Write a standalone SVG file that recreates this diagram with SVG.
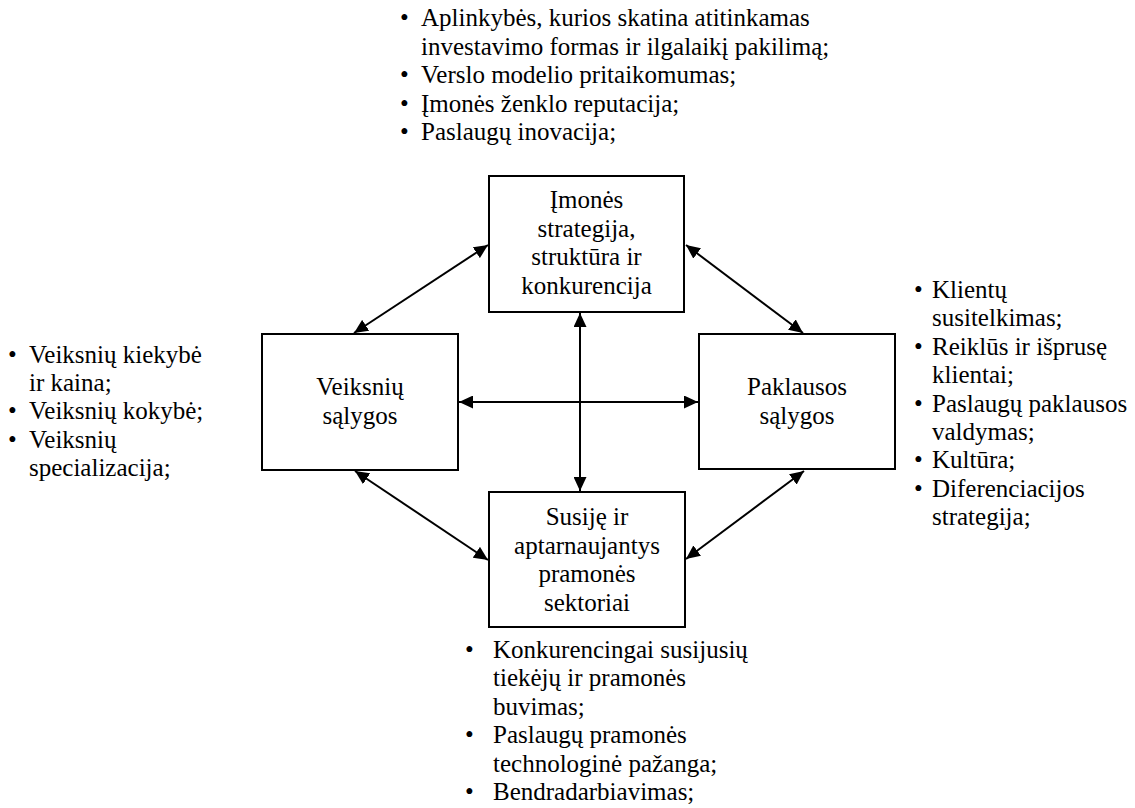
<svg xmlns="http://www.w3.org/2000/svg" width="1135" height="808" viewBox="0 0 1135 808">
  <style>
    text { font-family: "Liberation Serif", "Times New Roman", serif; font-size: 25px; fill: #000; }
    .box { fill: #fff; stroke: #000; stroke-width: 2; }
    .mid { text-anchor: middle; }
    .link { stroke: #000; stroke-width: 2; fill: none; marker-start: url(#head); marker-end: url(#head); }
  </style>
  <defs>
    <marker id="head" viewBox="0 0 14 13" refX="14" refY="6.5" markerWidth="14" markerHeight="13" markerUnits="userSpaceOnUse" orient="auto-start-reverse">
      <path d="M0,0 L14,6.5 L0,13 z" fill="#000"/>
    </marker>
  </defs>
  <rect width="1135" height="808" fill="#fff"/>

  <!-- connectors -->
  <g id="connectors">
    <line class="link" x1="580" y1="313" x2="580" y2="491"/>
    <line class="link" x1="459" y1="402" x2="698" y2="402"/>
    <line class="link" x1="354" y1="333" x2="488" y2="245"/>
    <line class="link" x1="686" y1="245" x2="803" y2="333"/>
    <line class="link" x1="355" y1="471" x2="488" y2="560"/>
    <line class="link" x1="804" y1="471" x2="686" y2="559"/>
  </g>

  <!-- company strategy node -->
  <g id="strategy">
    <rect class="box" x="489" y="176" width="195" height="136"/>
    <text class="mid" x="586.5" y="208">Įmonės</text>
    <text class="mid" x="586.5" y="236.5">strategija,</text>
    <text class="mid" x="586.5" y="265">struktūra ir</text>
    <text class="mid" x="586.5" y="293.5">konkurencija</text>
  </g>

  <!-- factor conditions node -->
  <g id="factors">
    <rect class="box" x="262" y="334" width="196" height="136"/>
    <text class="mid" x="360" y="395">Veiksnių</text>
    <text class="mid" x="360" y="423.5">sąlygos</text>
  </g>

  <!-- demand conditions node -->
  <g id="demand">
    <rect class="box" x="699" y="334" width="196" height="135"/>
    <text class="mid" x="797" y="395">Paklausos</text>
    <text class="mid" x="797" y="423.5">sąlygos</text>
  </g>

  <!-- related industries node -->
  <g id="related">
    <rect class="box" x="489" y="492" width="196" height="135"/>
    <text class="mid" x="587" y="525">Susiję ir</text>
    <text class="mid" x="587" y="553.5">aptarnaujantys</text>
    <text class="mid" x="587" y="582">pramonės</text>
    <text class="mid" x="587" y="610.5">sektoriai</text>
  </g>

  <!-- bullet lists -->
  <g id="list-top">
    <text x="400" y="26">•</text>
    <text x="421" y="26">Aplinkybės, kurios skatina atitinkamas</text>
    <text x="421" y="54.5">investavimo formas ir ilgalaikį pakilimą;</text>
    <text x="400" y="83">•</text>
    <text x="421" y="83">Verslo modelio pritaikomumas;</text>
    <text x="400" y="111.5">•</text>
    <text x="421" y="111.5">Įmonės ženklo reputacija;</text>
    <text x="400" y="139.5">•</text>
    <text x="421" y="139.5">Paslaugų inovacija;</text>
  </g>

  <g id="list-left">
    <text x="8" y="363">•</text>
    <text x="29" y="363">Veiksnių kiekybė</text>
    <text x="29" y="391.2">ir kaina;</text>
    <text x="8" y="419.4">•</text>
    <text x="29" y="419.4">Veiksnių kokybė;</text>
    <text x="8" y="447.6">•</text>
    <text x="29" y="447.6">Veiksnių</text>
    <text x="29" y="475.8">specializacija;</text>
  </g>

  <g id="list-right">
    <text x="914" y="298">•</text>
    <text x="932" y="298">Klientų</text>
    <text x="932" y="326.4">susitelkimas;</text>
    <text x="914" y="354.8">•</text>
    <text x="932" y="354.8">Reiklūs ir išprusę</text>
    <text x="932" y="383.2">klientai;</text>
    <text x="914" y="411.6">•</text>
    <text x="932" y="411.6">Paslaugų paklausos</text>
    <text x="932" y="440">valdymas;</text>
    <text x="914" y="468.4">•</text>
    <text x="932" y="468.4">Kultūra;</text>
    <text x="914" y="496.8">•</text>
    <text x="932" y="496.8">Diferenciacijos</text>
    <text x="932" y="525.2">strategija;</text>
  </g>

  <g id="list-bottom">
    <text x="465" y="658">•</text>
    <text x="493" y="658">Konkurencingai susijusių</text>
    <text x="493" y="686.4">tiekėjų ir pramonės</text>
    <text x="493" y="714.8">buvimas;</text>
    <text x="465" y="743.2">•</text>
    <text x="493" y="743.2">Paslaugų pramonės</text>
    <text x="493" y="771.6">technologinė pažanga;</text>
    <text x="465" y="800">•</text>
    <text x="493" y="800">Bendradarbiavimas;</text>
  </g>
</svg>
